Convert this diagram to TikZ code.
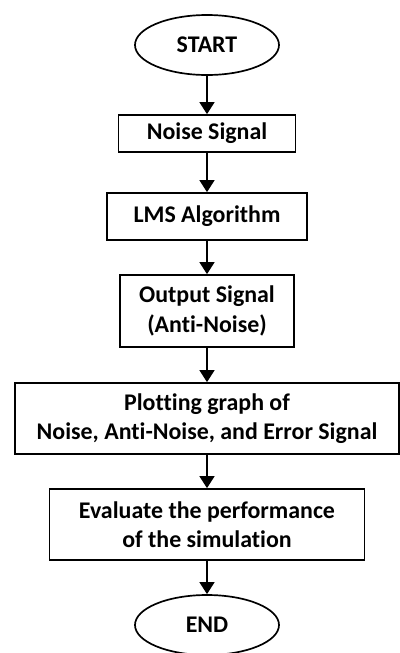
\documentclass[tikz,border=0pt]{standalone}
\usepackage{fontspec}
\setmainfont{Carlito}[Ligatures=NoCommon]
\usetikzlibrary{shapes.geometric,arrows.meta}

\begin{document}
\begin{tikzpicture}[line width=1.2pt,
	term/.style = {ellipse, draw, inner sep=0pt, minimum width=3.6cm, minimum height=1.5cm},
	proc/.style = {rectangle, draw, align=center, inner sep=0pt},
	flow/.style = {line width=1.4pt, -{Triangle[length=8.5pt,width=10.5pt]}},
	font=\fontsize{17}{21}\selectfont\bfseries]
	\useasboundingbox (0,0) rectangle (10,-16.325);
	\node (start)	at (5.175,  -1.125)	[term]	{START};
	\node (noise)	at (5.175,  -3.3375)	[proc, minimum width=4.425cm, minimum height=0.925cm]	{Noise Signal};
	\node (lms)	at (5.175,  -5.4125)	[proc, minimum width=5.0cm, minimum height=1.175cm]	{LMS Algorithm};
	\node (output)	at (5.175,  -7.775)	[proc, minimum width=4.35cm, minimum height=1.8cm]	{Output Signal\\(Anti-Noise)};
	\node (plot)	at (5.175, -10.4625)	[proc, minimum width=9.6cm, minimum height=1.775cm]	{Plotting graph of\\Noise, Anti-Noise, and Error Signal};
	\node (eval)	at (5.175, -13.1125)	[proc, minimum width=7.875cm, minimum height=1.775cm]	{Evaluate the performance\\of the simulation};
	\node (end)	at (5.175, -15.625)	[term]	{END};
	\draw[flow] (start) -- (noise);
	\draw[flow] (noise) -- (lms);
	\draw[flow] (lms) -- (output);
	\draw[flow] (output) -- (plot);
	\draw[flow] (plot) -- (eval);
	\draw[flow] (eval) -- (end);
\end{tikzpicture}
\end{document}
